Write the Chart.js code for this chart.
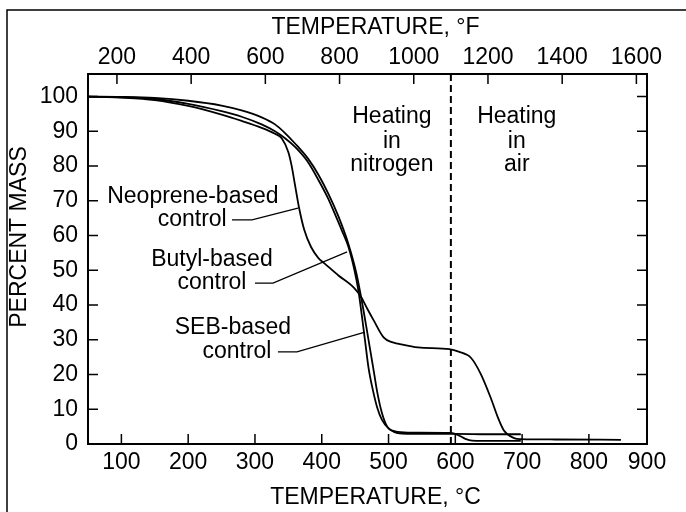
<!DOCTYPE html>
<html>
<head>
<meta charset="utf-8">
<script src="https://cdn.jsdelivr.net/npm/chart.js@4.4.1/dist/chart.umd.min.js"></script>
<style>
    html, body { margin: 0; padding: 0; background: #fff; }
    #wrap { width: 686px; height: 512px; position: relative; }
</style>
</head>
<body>
<div id="wrap"><canvas id="tgaChart"></canvas></div>
<script>
// Datos (temperatura en °C, masa en %)
const neopreneTemp = [50, 100, 150, 200, 250, 280, 310, 330, 340, 350, 355, 360, 366, 374, 384, 395, 404, 425, 448, 459, 468, 478, 493, 505, 514, 544, 591, 605, 623, 638, 653, 664, 673, 688, 698, 750, 848];
const neopreneMass = [100, 99.7, 99.0, 97.3, 94.8, 93, 91, 89.3, 88, 84, 80, 74.5, 68, 61.5, 56.7, 53.5, 52, 48.5, 45, 42.3, 39, 35.5, 30.6, 29.3, 28.9, 27.8, 27.3, 26.6, 24.9, 20.2, 13.3, 7.5, 3.8, 1.7, 1.4, 1.3, 1.2];

const butylTemp = [50, 100, 150, 200, 250, 280, 310, 330, 345, 360, 378, 395, 410, 419, 430, 440, 449, 455, 460, 465, 470, 476, 483, 490, 500, 510, 530, 593, 605, 615, 625, 660, 698];
const butylMass = [100, 99.8, 99.3, 97.9, 95.8, 94.2, 92, 90, 88, 85.5, 81.5, 76, 70.5, 66.5, 61.5, 56.7, 50, 44, 37, 29.5, 22, 16, 10.5, 7, 4.5, 3.6, 3.3, 3.2, 2.5, 1.5, 1.0, 0.9, 0.9];

const sebTemp = [50, 100, 150, 200, 250, 280, 310, 330, 345, 360, 380, 395, 410, 425, 440, 452, 462, 470, 477, 483, 490, 498, 508, 520, 560, 600, 650, 698];
const sebMass = [100, 99.9, 99.6, 98.8, 97.4, 96, 94, 92, 89.5, 86.5, 82, 77.5, 72, 65.5, 57.5, 49, 39, 30, 22, 15, 9, 5, 3.5, 3, 2.9, 2.9, 2.8, 2.8];

// Líneas guía de las etiquetas
const leaderNeopreneTemp = [265.6, 295.5, 364.4];
const leaderNeopreneMass = [64.5, 64.5, 67.9];
const leaderButylTemp = [300, 327, 438];
const leaderButylMass = [46.3, 46.3, 55.3];
const leaderSebTemp = [334.4, 362.9, 464.7];
const leaderSebMass = [26.5, 26.5, 32.2];

// Cambio de atmósfera (nitrógeno -> aire) a 1100 °F
const airSwitchF = 1100;

// Ejes
const celsiusMin = 50;
const celsiusMax = 887;
const massMin = 0;
const massMax = 106.5;
const celsiusTicks = [100, 200, 300, 400, 500, 600, 700, 800, 900];
const fahrenheitTicks = [200, 400, 600, 800, 1000, 1200, 1400, 1600];
const massTicks = [0, 10, 20, 30, 40, 50, 60, 70, 80, 90, 100];

// Textos dentro del gráfico
const noteText = ['Neoprene-based', 'control', 'Butyl-based', 'control', 'SEB-based', 'control',
    'Heating', 'in', 'nitrogen', 'Heating', 'in', 'air'];
const noteTemp = [207, 206, 235.6, 235.6, 267, 273, 505, 505, 505, 692, 692, 692];
const noteMass = [71.1, 64.5, 53, 46.3, 33.4, 26.5, 94.1, 86.9, 80.3, 94.1, 86.9, 80.3];

const toF = c => c * 9 / 5 + 32;
const toC = f => (f - 32) * 5 / 9;
const zip = (xs, ys) => xs.map((x, i) => ({ x, y: ys[i] }));

const FONT = '"Liberation Sans", Arial, Helvetica, sans-serif';
const FONT_SIZE = 23;
const TICK = 10;

Chart.defaults.font.family = FONT;
Chart.defaults.font.size = FONT_SIZE;
Chart.defaults.color = '#000';

const curve = (data) => ({
    data,
    borderColor: '#000',
    borderWidth: 1.8,
    pointRadius: 0,
    fill: false,
    cubicInterpolationMode: 'monotone'
});

const leader = (data) => ({
    data,
    borderColor: '#000',
    borderWidth: 1.2,
    pointRadius: 0,
    fill: false,
    tension: 0
});

// Marco, ticks hacia adentro y textos
const decorations = {
    id: 'decorations',
    beforeDraw(chart) {
        const { ctx } = chart;
        ctx.save();
        ctx.strokeStyle = '#000';
        ctx.lineWidth = 1.5;
        ctx.beginPath();
        ctx.moveTo(7, chart.height);
        ctx.lineTo(7, 10);
        ctx.lineTo(chart.width, 10);
        ctx.stroke();
        ctx.restore();
    },
    afterDatasetsDraw(chart) {
        const { ctx, chartArea: a, scales } = chart;
        ctx.save();
        ctx.strokeStyle = '#000';
        ctx.lineWidth = 2;
        ctx.strokeRect(a.left, a.top, a.right - a.left, a.bottom - a.top);

        ctx.lineWidth = 1.5;
        ctx.beginPath();
        scales.x.ticks.forEach(t => {
            const px = scales.x.getPixelForValue(t.value);
            ctx.moveTo(px, a.bottom);
            ctx.lineTo(px, a.bottom - TICK);
        });
        scales.x2.ticks.forEach(t => {
            const px = scales.x2.getPixelForValue(t.value);
            ctx.moveTo(px, a.top);
            ctx.lineTo(px, a.top + TICK);
        });
        scales.y.ticks.forEach(t => {
            const py = scales.y.getPixelForValue(t.value);
            ctx.moveTo(a.left, py);
            ctx.lineTo(a.left + TICK, py);
            ctx.moveTo(a.right, py);
            ctx.lineTo(a.right - TICK, py);
        });
        ctx.stroke();

        // Textos anotados
        ctx.fillStyle = '#000';
        ctx.font = FONT_SIZE + 'px ' + FONT;
        ctx.textAlign = 'center';
        ctx.textBaseline = 'middle';
        noteText.forEach((txt, i) => {
            ctx.fillText(txt, scales.x.getPixelForValue(noteTemp[i]), scales.y.getPixelForValue(noteMass[i]));
        });

        // Títulos de ejes
        const cx = (a.left + a.right) / 2 + 8;
        ctx.fillText('TEMPERATURE, °F', cx, a.top - 46);
        ctx.fillText('TEMPERATURE, °C', cx, a.bottom + 54);
        ctx.translate(a.left - 68, (a.top + a.bottom) / 2 - 22);
        ctx.rotate(-Math.PI / 2);
        ctx.fillText('PERCENT MASS', 0, 0);
        ctx.restore();
    }
};

new Chart(document.getElementById('tgaChart'), {
    type: 'line',
    data: {
        datasets: [
            curve(zip(neopreneTemp, neopreneMass)),
            curve(zip(butylTemp, butylMass)),
            curve(zip(sebTemp, sebMass)),
            leader(zip(leaderNeopreneTemp, leaderNeopreneMass)),
            leader(zip(leaderButylTemp, leaderButylMass)),
            leader(zip(leaderSebTemp, leaderSebMass)),
            {
                data: [{ x: toC(airSwitchF), y: massMin }, { x: toC(airSwitchF), y: massMax }],
                borderColor: '#000',
                borderWidth: 2,
                borderDash: [7, 4],
                pointRadius: 0,
                fill: false
            }
        ]
    },
    options: {
        responsive: true,
        maintainAspectRatio: false,
        animation: false,
        layout: { padding: { left: 0, right: 39, top: 0, bottom: 0 } },
        plugins: {
            legend: { display: false },
            tooltip: { enabled: false }
        },
        scales: {
            x: {
                type: 'linear',
                position: 'bottom',
                min: celsiusMin,
                max: celsiusMax,
                grid: { display: false, drawTicks: false },
                border: { display: false },
                afterBuildTicks: (scale) => {
                    scale.ticks = celsiusTicks.map(v => ({ value: Math.min(v, scale.max) }));
                },
                ticks: {
                    padding: 5,
                    maxRotation: 0,
                    autoSkip: false,
                    callback: (v, i) => celsiusTicks[i]
                },
                afterFit: (scale) => { scale.height = 68; }
            },
            x2: {
                type: 'linear',
                position: 'top',
                min: toF(celsiusMin),
                max: toF(celsiusMax),
                grid: { display: false, drawTicks: false },
                border: { display: false },
                afterBuildTicks: (scale) => {
                    scale.ticks = fahrenheitTicks.map(v => ({ value: v }));
                },
                ticks: {
                    padding: 3,
                    maxRotation: 0,
                    autoSkip: false,
                    callback: (v, i) => fahrenheitTicks[i]
                },
                afterFit: (scale) => { scale.height = 74; }
            },
            y: {
                min: massMin,
                max: massMax,
                grid: { display: false, drawTicks: false },
                border: { display: false },
                afterBuildTicks: (scale) => {
                    scale.ticks = massTicks.map(v => ({ value: v }));
                },
                ticks: {
                    padding: 10,
                    autoSkip: false,
                    callback: (v, i) => massTicks[i]
                },
                afterFit: (scale) => { scale.width = 88; }
            }
        }
    },
    plugins: [decorations]
});
</script>
</body>
</html>
